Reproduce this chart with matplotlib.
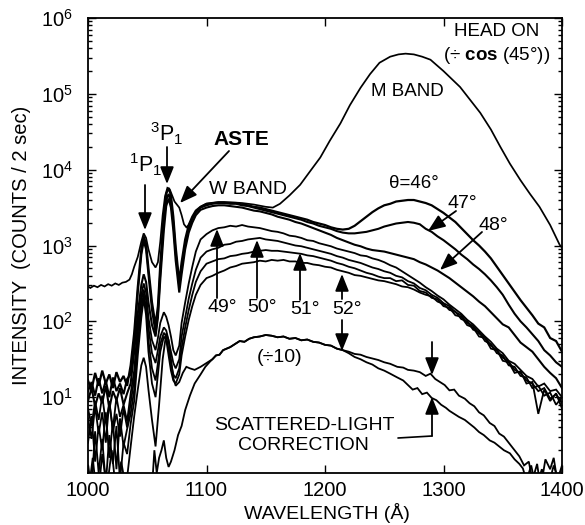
import numpy as np
import matplotlib
matplotlib.use("Agg")
import matplotlib.pyplot as plt
from matplotlib.ticker import LogLocator, NullFormatter, FixedLocator

plt.rcParams['font.family'] = ['Liberation Sans', 'DejaVu Sans']
plt.rcParams['mathtext.fontset'] = 'custom'
plt.rcParams['mathtext.rm'] = 'Liberation Sans'
plt.rcParams['mathtext.it'] = 'Liberation Sans:italic'
plt.rcParams['mathtext.bf'] = 'Liberation Sans:bold'

# ---------------- data (log10 of counts / 2 sec) ----------------
wl_head = [1000,1002,1005,1008,1011,1014,1017,1020,1023,1026,1029,1032,1035,1037,1039,1042,1045,1047,1049,1051,
           1054,1057,1059,1061,1063,1065,1067,1069,1071,1073,1075,1077,1079,1081,1083,1085,1088,1091,1095,1100,
           1110,1120,1130,1140,1150,1156,1162,1170,1179,1187,1196,1204,1213,1221,1230,1238,1246,1255,1262,1268,
           1275,1282,1289,1300,1314,1322,1331,1340,1348,1356,1365,1373,1381,1390,1398,1400]
lg_head = [2.46,2.44,2.47,2.45,2.48,2.46,2.49,2.47,2.50,2.48,2.51,2.52,2.55,2.62,2.72,2.85,3.05,3.16,3.10,2.95,
           2.78,2.71,2.78,3.05,3.40,3.65,3.76,3.74,3.66,3.58,3.54,3.50,3.40,3.28,3.24,3.27,3.36,3.44,3.51,3.55,
           3.57,3.57,3.56,3.54,3.51,3.50,3.55,3.66,3.80,3.97,4.16,4.38,4.61,4.85,5.08,5.26,5.41,5.49,5.52,5.53,
           5.52,5.49,5.45,5.30,5.09,4.93,4.75,4.53,4.30,4.08,3.86,3.68,3.51,3.27,3.01,2.97]

wl_ang = ([1000,1003,1006,1009,1012,1015,1018,1021,1024,1027,1030,1033,1036] +
          [1039,1042,1045,1047,1049,1051,1054,1057,1059,1061,1064,1066,1068,1070,1072,1074,1077,1079,1082,1085,
           1088,1091,1095,1100] +
          list(range(1105, 1251, 5)) + list(range(1255, 1401, 5)))

lg46 = ([1.22,1.10,1.32,1.15,1.35,1.18,1.30,1.12,1.33,1.20,1.28,1.15,1.42] +
        [1.85,2.45,2.95,3.12,3.02,2.70,2.25,1.95,2.20,2.75,3.40,3.68,3.76,3.66,3.38,2.98,2.52,2.78,3.08,3.27,3.38,3.46,3.51,3.55] +
        [3.56,3.57,3.57,3.56,3.56,3.54,3.53,3.51,3.50,3.48,3.46,3.44,3.42,3.40,3.38,3.36,3.34,3.31,3.29,3.27,3.24,3.22,3.21,3.22,3.26,3.32,3.38,3.44,3.49,3.53] +
        [3.55,3.58,3.59,3.60,3.60,3.58,3.56,3.53,3.48,3.43,3.37,3.31,3.23,3.15,3.07,3.00,2.92,2.83,2.72,2.61,2.50,2.39,2.28,2.18,2.08,1.97,1.92,1.78,1.74,1.60])
lg47 = ([1.08,1.20,1.02,1.25,1.05,1.22,1.00,1.26,1.08,1.18,1.04,1.24,1.30] +
        [1.75,2.38,2.88,3.06,2.95,2.62,2.15,1.85,2.10,2.65,3.32,3.60,3.68,3.58,3.30,2.90,2.46,2.70,3.02,3.22,3.35,3.44,3.50,3.53] +
        [3.55,3.56,3.56,3.55,3.55,3.53,3.52,3.50,3.48,3.46,3.44,3.42,3.40,3.38,3.36,3.34,3.31,3.29,3.26,3.24,3.22,3.19,3.17,3.16,3.16,3.17,3.18,3.20,3.22,3.25] +
        [3.27,3.29,3.30,3.31,3.30,3.28,3.22,3.18,3.12,3.07,3.01,2.95,2.88,2.82,2.75,2.69,2.62,2.54,2.45,2.35,2.22,2.10,2.00,1.92,1.83,1.74,1.62,1.55,1.46,1.40])
lg48 = ([0.95,1.12,0.88,1.05,0.92,1.15,0.85,1.08,0.96,1.12,0.90,1.05,1.18] +
        [1.60,2.10,2.48,2.62,2.52,2.25,1.95,1.80,2.05,2.55,3.20,3.52,3.62,3.50,3.20,2.80,2.38,2.62,2.95,3.17,3.30,3.40,3.47,3.50] +
        [3.52,3.53,3.53,3.52,3.51,3.50,3.48,3.46,3.45,3.43,3.41,3.38,3.36,3.34,3.31,3.29,3.26,3.23,3.20,3.17,3.14,3.10,3.07,3.04,3.01,2.99,2.96,2.94,2.93,2.92] +
        [2.90,2.88,2.86,2.84,2.82,2.78,2.75,2.71,2.67,2.62,2.57,2.51,2.45,2.39,2.33,2.26,2.20,2.12,2.04,1.96,1.92,1.82,1.72,1.66,1.60,1.50,1.40,1.32,1.25,1.12])
lg49 = ([0.85,0.62,0.95,0.70,1.02,0.66,0.92,0.58,1.00,0.74,0.90,0.68,1.05] +
        [1.35,1.95,2.35,2.50,2.38,2.05,1.75,1.62,1.78,1.98,2.12,2.06,1.95,1.80,1.62,1.55,1.68,1.98,2.25,2.50,2.72,2.92,3.08,3.15] +
        [3.20,3.23,3.24,3.26,3.25,3.27,3.25,3.24,3.23,3.21,3.19,3.18,3.16,3.13,3.12,3.10,3.07,3.06,3.03,3.01,2.99,2.96,2.94,2.92,2.90,2.87,2.86,2.83,2.81,2.78] +
        [2.74,2.71,2.66,2.61,2.56,2.51,2.45,2.40,2.34,2.29,2.22,2.16,2.10,2.02,1.96,1.88,1.80,1.73,1.64,1.58,1.48,1.44,1.36,1.28,1.24,1.14,1.18,1.08,1.10,1.00])
lg50 = ([0.72,0.45,0.88,0.52,0.80,0.40,0.95,0.55,0.78,0.48,0.85,0.60,0.92] +
        [1.25,1.85,2.28,2.42,2.28,1.92,1.58,1.45,1.62,1.80,1.92,1.88,1.75,1.60,1.45,1.38,1.50,1.80,2.05,2.30,2.50,2.68,2.84,2.92] +
        [2.95,2.97,3.01,3.02,3.05,3.06,3.08,3.09,3.10,3.08,3.07,3.06,3.04,3.02,3.00,2.99,2.97,2.95,2.93,2.91,2.89,2.86,2.84,2.81,2.79,2.77,2.74,2.71,2.69,2.66] +
        [2.64,2.60,2.58,2.53,2.50,2.44,2.41,2.35,2.31,2.24,2.20,2.12,2.08,1.98,1.94,1.84,1.79,1.68,1.62,1.52,1.47,1.36,1.32,1.22,1.18,1.08,1.12,0.98,1.04,0.92])
lg51 = ([0.40,0.75,0.15,0.62,0.30,0.80,0.20,0.68,0.05,0.72,0.35,0.58,0.78] +
        [1.10,1.70,2.18,2.36,2.18,1.75,1.38,1.22,1.45,1.70,1.85,1.80,1.62,1.45,1.30,1.25,1.38,1.65,1.92,2.15,2.35,2.52,2.66,2.76] +
        [2.79,2.82,2.83,2.86,2.87,2.89,2.90,2.92,2.93,2.94,2.93,2.93,2.92,2.91,2.90,2.89,2.87,2.86,2.84,2.82,2.80,2.77,2.75,2.72,2.70,2.67,2.64,2.62,2.59,2.57] +
        [2.57,2.53,2.54,2.48,2.47,2.40,2.38,2.31,2.29,2.20,2.18,2.08,2.06,1.95,1.92,1.80,1.78,1.64,1.62,1.48,1.46,1.32,1.34,1.18,1.20,0.78,1.10,0.95,1.05,0.85])
lg52 = ([0.10,-0.20,0.55,0.00,0.45,-0.15,0.50,0.12,0.62,-0.10,0.40,0.25,0.65] +
        [0.95,1.55,2.05,2.30,2.08,1.60,1.18,1.00,1.30,1.60,1.80,1.76,1.55,1.35,1.22,1.18,1.30,1.55,1.80,2.02,2.20,2.35,2.48,2.57] +
        [2.60,2.64,2.67,2.71,2.73,2.76,2.77,2.78,2.80,2.79,2.81,2.80,2.81,2.79,2.79,2.77,2.77,2.75,2.74,2.72,2.71,2.68,2.66,2.64,2.61,2.60,2.58,2.56,2.54,2.53] +
        [2.51,2.49,2.46,2.45,2.42,2.38,2.35,2.33,2.26,2.23,2.15,2.13,2.03,2.00,1.89,1.86,1.74,1.70,1.58,1.55,1.42,1.40,1.28,1.26,1.12,1.15,1.02,1.06,0.90,1.00])

# 52 deg divided by 10, and its scattered-light corrected version (share 1105-1215)
wl_low_mid = [1105,1108,1111,1114,1117,1120,1124,1128,1132,1136,1140,1145,1150,1155,1160,1165,1170,1175,1180,1185,1190,1195,1200,1205,1210,1215]
lg_low_mid = [1.50,1.55,1.56,1.62,1.64,1.66,1.70,1.74,1.73,1.77,1.79,1.80,1.82,1.81,1.79,1.80,1.77,1.78,1.75,1.76,1.73,1.72,1.69,1.68,1.64,1.62]

wl_div_a = [1000,1004,1008,1012,1016,1020,1024,1028,1032,1036,1039,1042,1045,1047,1049,1051,1054,1057,1060,1063,
            1066,1068,1070,1072,1074,1077,1080,1083,1086,1090,1095,1100]
lg_div_a = [-0.3,0.2,-0.4,0.25,-0.2,0.3,-0.3,0.15,-0.2,0.35,0.75,1.10,1.42,1.52,1.40,1.10,0.70,0.35,0.90,1.50,
            1.84,1.75,1.50,1.25,1.15,1.20,1.32,1.40,1.38,1.36,1.40,1.45]
wl_div_b = [1220,1225,1230,1235,1240,1245,1250,1255,1261,1266,1270,1275,1280,1285,1289,1293,1297,1301,1305,1309,
            1313,1318,1322,1326,1330,1334,1339,1343,1347,1351,1356,1360,1364,1368,1372,1375,1379,1382,1386,1390,
            1393,1396,1400]
lg_div_b = [1.60,1.57,1.56,1.53,1.51,1.49,1.46,1.44,1.40,1.39,1.36,1.35,1.33,1.28,1.31,1.24,1.20,1.16,1.09,1.10,
            1.02,0.98,0.92,0.88,0.80,0.76,0.66,0.62,0.52,0.48,0.38,0.30,0.22,0.10,0.15,-0.10,0.12,-0.20,0.18,0.05,
            0.20,-0.10,0.10]

wl_cor_a = [1054,1056,1058,1060,1062,1064,1066,1068,1070,1073,1076,1079,1082,1086,1090,1095,1099,1103]
lg_cor_a = [-0.2,0.30,0.00,0.20,0.30,0.43,0.20,0.08,0.15,0.30,0.50,0.62,0.83,1.02,1.18,1.30,1.40,1.47]
wl_cor_b = [1220,1225,1230,1235,1240,1245,1250,1255,1261,1266,1270,1274,1278,1282,1286,1290,1294,1298,1302,1305,
            1309,1313,1318,1322,1326,1330,1334,1339,1343,1347,1351,1356,1360,1364,1367,1370,1374,1378,1383,1388,
            1393,1397,1400]
lg_cor_b = [1.58,1.53,1.50,1.46,1.43,1.38,1.35,1.31,1.26,1.22,1.16,1.10,1.12,1.04,1.06,0.99,0.96,0.90,0.86,0.82,
            0.78,0.74,0.70,0.65,0.60,0.54,0.50,0.43,0.40,0.35,0.30,0.26,0.18,0.12,0.06,-0.10,0.10,-0.20,0.05,-0.20,
            0.10,-0.10,0.00]

x_ticks = [1000, 1100, 1200, 1300, 1400]
y_ticks = [1e1, 1e2, 1e3, 1e4, 1e5, 1e6]
y_ticklabels = [r'10$^{1}$', r'10$^{2}$', r'10$^{3}$', r'10$^{4}$', r'10$^{5}$', r'10$^{6}$']

# ---------------- figure ----------------
W, H = 585, 525
fig = plt.figure(figsize=(W/100, H/100), dpi=100)
ax = fig.add_axes([88/W, 1-473/H, (562-88)/W, (473-18)/H])

def curve(wl, lg, lw=1.2):
    ax.plot(wl, 10**np.asarray(lg, float), color='black', lw=lw, solid_joinstyle='miter')

curve(wl_head, lg_head, 1.25)
for lg, lw in [(lg46, 1.6), (lg47, 1.5), (lg48, 1.5), (lg49, 1.3), (lg50, 1.3), (lg51, 1.3), (lg52, 1.3)]:
    curve(wl_ang, lg, lw)
curve(wl_div_a + wl_low_mid + wl_div_b, lg_div_a + lg_low_mid + lg_div_b, 1.3)
curve(wl_cor_a + wl_low_mid + wl_cor_b, lg_cor_a + lg_low_mid + lg_cor_b, 1.3)

ax.set_yscale('log')
ax.set_xlim(1000, 1400)
ax.set_ylim(1, 1e6)
ax.set_xticks(x_ticks)
ax.set_xticklabels([str(t) for t in x_ticks], fontsize=14.5)
ax.yaxis.set_major_locator(FixedLocator(y_ticks))
ax.set_yticklabels(y_ticklabels, fontsize=14.5)
ax.yaxis.set_minor_locator(LogLocator(base=10, subs=np.arange(2, 10)))
ax.yaxis.set_minor_formatter(NullFormatter())
ax.tick_params(which='both', direction='in', top=True, right=True, width=1.0)
ax.tick_params(which='major', length=6)
ax.tick_params(which='minor', length=3)
ax.tick_params(axis='x', pad=6)
ax.tick_params(axis='y', pad=11)
for s in ax.spines.values():
    s.set_linewidth(1.3)

def fp(px, py):
    return (px, H - py)

def txt(px, py, s, size=14, **kw):
    fig.text(px/W, 1-py/H, s, ha='center', va='center', fontsize=size, **kw)

def arrow(p0, p1, lw=1.3):
    ax.annotate('', xy=fp(*p1), xycoords='figure pixels', xytext=fp(*p0), textcoords='figure pixels',
                arrowprops=dict(arrowstyle='-|>,head_length=0.8,head_width=0.32', lw=lw, color='black',
                                mutation_scale=13, shrinkA=0, shrinkB=0))

# axis labels
txt(327, 513, 'WAVELENGTH (Å)', 14)
txt(22, 245, 'INTENSITY  (COUNTS / 2 sec)', 14.5, rotation=90)

# annotations
txt(497, 32, 'HEAD ON', 13.5)
txt(497, 55, r'(÷ $\mathbf{cos}$ (45°))', 13.5)
txt(407, 92, 'M BAND', 13.5)
txt(414, 183, 'θ=46°', 13.5)
txt(462, 204, '47°', 14)
txt(493, 226, '48°', 14)
txt(248, 189, 'W BAND', 14)
txt(241, 140, 'ASTE', 15, fontweight='bold')
txt(167, 134, r'$^{3}$P$_{1}$', 15.5)
txt(146, 165, r'$^{1}$P$_{1}$', 15.5)
txt(222, 308, '49°', 14)
txt(262, 308, '50°', 14)
txt(305, 310, '51°', 14)
txt(347, 310, '52°', 14)
txt(280, 357, '(÷10)', 14)
txt(304, 425, 'SCATTERED-LIGHT', 14)
txt(303, 445, 'CORRECTION', 14)

arrow((145, 185), (145, 230))
arrow((167, 147), (167, 184))
arrow((229, 151), (180, 203))
arrow((456, 211), (428, 231))
arrow((482, 232), (440, 270))
arrow((217, 298), (217, 229))
arrow((257, 298), (257, 240))
arrow((300, 300), (300, 253))
arrow((342, 299), (342, 274))
arrow((342, 320), (342, 351))
arrow((432, 342), (432, 375))
ax.annotate('', xy=fp(432, 436), xycoords='figure pixels', xytext=fp(398, 438), textcoords='figure pixels',
            arrowprops=dict(arrowstyle='-', lw=1.2, color='black', shrinkA=0, shrinkB=0))
arrow((432, 436), (432, 397))

fig.savefig('out.png', dpi=100)
